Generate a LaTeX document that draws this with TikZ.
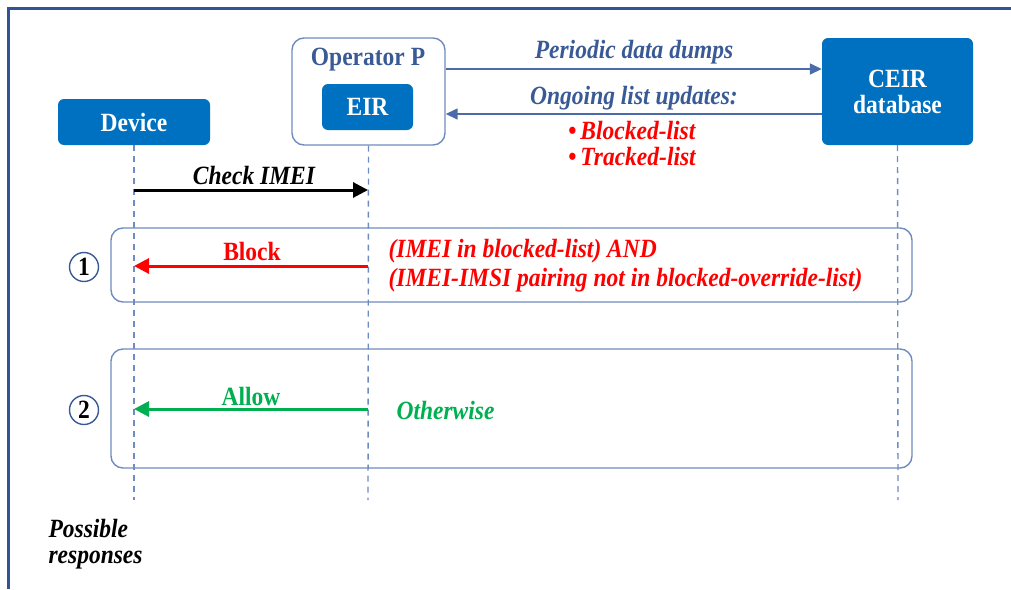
\documentclass[tikz,border=0pt]{standalone}
\usepackage{fontspec}
\usepackage{graphicx}
\setmainfont{Liberation Serif}
\usetikzlibrary{arrows.meta}
\newcommand{\tallx}[1]{\scalebox{1}[1.12]{#1}}
\definecolor{boxblue}{HTML}{0070C0}
\definecolor{frameblue}{HTML}{2F5597}
\definecolor{lineblue}{HTML}{6F8CC0}
\definecolor{arrblue}{HTML}{4A6CA8}
\definecolor{txtblue}{HTML}{3A5A96}
\definecolor{okgreen}{HTML}{00B050}
\definecolor{nored}{HTML}{FF0000}
\tikzset{
  fnt/.style={font=\fontsize{23.5}{26}\selectfont\bfseries},
  ifnt/.style={font=\fontsize{23.5}{26}\selectfont\bfseries\itshape},
  bluebox/.style={fill=boxblue, rounded corners=6pt, text=white, fnt, inner sep=0pt},
  lifeline/.style={draw=lineblue, line width=1.4pt, dash pattern=on 6pt off 5pt},
  casebox/.style={draw=lineblue, line width=1.4pt, rounded corners=12pt},
  msg/.style={line width=3pt, -{Triangle[length=15pt,width=15pt]}},
  dataarrow/.style={draw=arrblue, line width=1.5pt, -{Triangle[length=12pt,width=11pt]}},
  numcirc/.style={circle, draw=txtblue, line width=1.4pt, minimum size=29pt, inner sep=0pt, fnt, text=black}
}
\begin{document}
\begin{tikzpicture}[x=1pt,y=-1pt]
\path[use as bounding box] (0,0) rectangle (1011,589);
% frame
\draw[frameblue, line width=3pt] (8.5,589) -- (8.5,8.5) -- (1011,8.5);
% participants
\node[draw=lineblue, line width=1.4pt, rounded corners=12pt, minimum width=153pt, minimum height=107pt, inner sep=0pt] (op) at (368.5,91.5) {};
\node[fnt, text=txtblue] (optxt) at (368,60) {\tallx{Operator P}};
\node[bluebox, minimum width=91pt, minimum height=46pt] (eir) at (367.5,107) {\tallx{EIR}};
\node[bluebox, minimum width=152pt, minimum height=46pt] (device) at (134,122) {\tallx{Device}};
\node[bluebox, minimum width=151pt, minimum height=107pt, align=center] (ceir) at (897.5,91.5) {\tallx{CEIR}\\\tallx{database}};
% lifelines
\coordinate (dend) at (134,500);
\coordinate (eend) at (368,500);
\coordinate (cend) at (898,500);
\draw[lifeline] (device.south) -- (dend);
\draw[lifeline] (op.south) -- (eend);
\draw[lifeline] (ceir.south) -- (cend);
% data exchange
\coordinate (ya) at (0,69);
\coordinate (yb) at (0,114);
\draw[dataarrow] (op.east |- ya) -- (ceir.west |- ya);
\draw[dataarrow] (ceir.west |- yb) -- (op.east |- yb);
\node[ifnt, text=txtblue] (pdd) at (634,52) {\tallx{Periodic data dumps}};
\node[ifnt, text=txtblue] (olu) at (634,98) {\tallx{Ongoing list updates:}};
\node[ifnt, text=nored, align=left] (lists) at (632,144) {\tallx{\textup{\textbullet}\,Blocked-list}\\\tallx{\textup{\textbullet}\,Tracked-list}};
% check IMEI
\coordinate (c1) at (134,190);
\coordinate (c2) at (368,190);
\draw[msg, black] (c1) -- (c2);
\node[ifnt] (chk) at (254,175) {\tallx{Check IMEI}};
% case 1
\node[casebox, minimum width=801pt, minimum height=74pt, inner sep=0pt] (case1) at (511.5,265) {};
\node[numcirc] (n1) at (84,267) {\tallx{1}};
\coordinate (b1) at (368,266);
\coordinate (b2) at (134,266);
\draw[msg, nored] (b1) -- (b2);
\node[fnt, text=nored] (blk) at (252,251) {\tallx{Block}};
\node[ifnt, text=nored, align=left, anchor=west, font=\fontsize{23.5}{29}\selectfont\bfseries\itshape] (cond) at (385,265.5) {\tallx{(IMEI in blocked-list) AND}\\\tallx{(IMEI-IMSI pairing not in blocked-override-list)}};
% case 2
\node[casebox, minimum width=801pt, minimum height=119pt, inner sep=0pt] (case2) at (511.5,408.5) {};
\node[numcirc] (n2) at (84,410) {\tallx{2}};
\coordinate (a1) at (368,409);
\coordinate (a2) at (134,409);
\draw[msg, okgreen] (a1) -- (a2);
\node[fnt, text=okgreen] (alw) at (251,396) {\tallx{Allow}};
\node[ifnt, text=okgreen, anchor=west] (oth) at (393,410) {\tallx{Otherwise}};
% footer
\node[ifnt, align=left, anchor=west] (pr) at (45,544) {\tallx{Possible}\\\tallx{responses}};
\end{tikzpicture}
\end{document}
